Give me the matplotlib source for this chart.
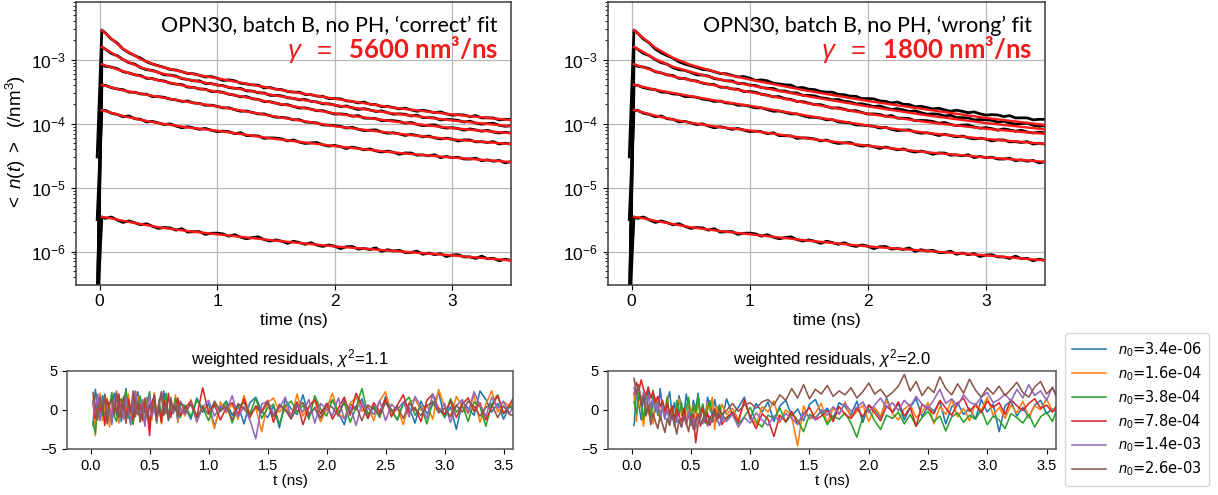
import numpy as np
import matplotlib
matplotlib.use("Agg")
import matplotlib.pyplot as plt

plt.rcParams['font.family'] = ['Liberation Sans', 'DejaVu Sans']
plt.rcParams['mathtext.fontset'] = 'custom'
plt.rcParams['mathtext.rm'] = 'Liberation Sans'
plt.rcParams['mathtext.it'] = 'Liberation Sans:italic'
plt.rcParams['mathtext.bf'] = 'Liberation Sans:bold'
plt.rcParams['mathtext.sf'] = 'Liberation Sans'

# ---------------- data ----------------
labels = ["$n_0$=3.4e-06", "$n_0$=1.6e-04", "$n_0$=3.8e-04",
          "$n_0$=7.8e-04", "$n_0$=1.4e-03", "$n_0$=2.6e-03"]
res_colors = ["C0", "C1", "C2", "C3", "C4", "C5"]

panel_titles = ["OPN30, batch B, no PH, \u2018correct\u2019 fit",
                "OPN30, batch B, no PH, \u2018wrong\u2019 fit"]
gamma_texts = ["$\\gamma$  $=$  5600 nm\u00b3/ns", "$\\gamma$  $=$  1800 nm\u00b3/ns"]
chi2_titles = ["weighted residuals, $\\chi^2$=1.1", "weighted residuals, $\\chi^2$=2.0"]

# measured decays: time (ns) and log10 <n(t)> (/nm^3)
t_data = [-0.02, 0.02] + [round(0.05 * k, 2) for k in range(1, 71)]

log_n1 = [-7.0, -5.46,
          -5.482, -5.460, -5.506, -5.544, -5.521, -5.549, -5.582, -5.565, -5.605, -5.638,
          -5.624, -5.630, -5.666, -5.642, -5.696, -5.690, -5.688, -5.732, -5.714, -5.712,
          -5.724, -5.760, -5.736, -5.776, -5.800, -5.782, -5.770, -5.814, -5.836, -5.818,
          -5.839, -5.872, -5.839, -5.860, -5.887, -5.862, -5.901, -5.920, -5.897, -5.916,
          -5.955, -5.924, -5.921, -5.962, -5.953, -5.968, -5.943, -5.998, -5.971, -5.992,
          -5.981, -6.016, -6.015, -5.994, -6.043, -6.024, -6.049, -6.032, -6.079, -6.054,
          -6.050, -6.084, -6.084, -6.108, -6.072, -6.112, -6.106, -6.144, -6.120, -6.138]
log_n2 = [-5.50, -3.79,
          -3.792, -3.836, -3.855, -3.892, -3.879, -3.923, -3.932, -3.972, -3.964, -3.988,
          -4.014, -4.003, -4.037, -4.064, -4.048, -4.067, -4.089, -4.074, -4.102, -4.124,
          -4.117, -4.126, -4.157, -4.142, -4.187, -4.188, -4.192, -4.230, -4.222, -4.226,
          -4.239, -4.270, -4.255, -4.289, -4.310, -4.300, -4.295, -4.331, -4.351, -4.341,
          -4.360, -4.388, -4.366, -4.385, -4.409, -4.394, -4.426, -4.444, -4.429, -4.447,
          -4.479, -4.458, -4.459, -4.493, -4.488, -4.503, -4.486, -4.531, -4.513, -4.532,
          -4.525, -4.553, -4.554, -4.540, -4.579, -4.566, -4.587, -4.575, -4.613, -4.595]
log_n3 = [-7.0, -3.395,
          -3.400, -3.436, -3.457, -3.468, -3.506, -3.509, -3.535, -3.540, -3.576, -3.577,
          -3.587, -3.616, -3.628, -3.652, -3.646, -3.676, -3.683, -3.712, -3.710, -3.729,
          -3.753, -3.752, -3.781, -3.806, -3.802, -3.824, -3.848, -3.847, -3.875, -3.899,
          -3.901, -3.913, -3.940, -3.937, -3.973, -3.980, -3.989, -4.021, -4.022, -4.031,
          -4.041, -4.069, -4.057, -4.088, -4.108, -4.101, -4.097, -4.131, -4.149, -4.142,
          -4.160, -4.185, -4.167, -4.184, -4.206, -4.193, -4.222, -4.238, -4.227, -4.242,
          -4.271, -4.253, -4.255, -4.284, -4.282, -4.294, -4.281, -4.319, -4.305, -4.321]
log_n4 = [-7.0, -3.07,
          -3.103, -3.115, -3.140, -3.187, -3.206, -3.236, -3.247, -3.291, -3.294, -3.321,
          -3.332, -3.366, -3.382, -3.388, -3.429, -3.432, -3.457, -3.461, -3.497, -3.497,
          -3.509, -3.540, -3.554, -3.580, -3.576, -3.610, -3.621, -3.654, -3.656, -3.679,
          -3.703, -3.702, -3.731, -3.756, -3.752, -3.774, -3.798, -3.797, -3.825, -3.849,
          -3.847, -3.856, -3.884, -3.873, -3.913, -3.915, -3.920, -3.954, -3.949, -3.953,
          -3.966, -3.993, -3.981, -4.011, -4.031, -4.023, -4.019, -4.052, -4.070, -4.062,
          -4.078, -4.102, -4.082, -4.098, -4.118, -4.104, -4.131, -4.146, -4.133, -4.147]
log_n5 = [-7.0, -2.80,
          -2.834, -2.902, -2.936, -2.997, -3.046, -3.069, -3.124, -3.156, -3.166, -3.198,
          -3.236, -3.239, -3.256, -3.295, -3.309, -3.330, -3.331, -3.372, -3.372, -3.396,
          -3.404, -3.434, -3.447, -3.449, -3.487, -3.490, -3.516, -3.520, -3.557, -3.557,
          -3.566, -3.594, -3.605, -3.628, -3.621, -3.652, -3.660, -3.690, -3.689, -3.709,
          -3.732, -3.723, -3.753, -3.778, -3.765, -3.785, -3.809, -3.800, -3.828, -3.852,
          -3.846, -3.853, -3.880, -3.867, -3.905, -3.906, -3.909, -3.942, -3.935, -3.938,
          -3.949, -3.975, -3.961, -3.990, -4.008, -3.999, -3.993, -4.025, -4.041, -4.032]
log_n6 = [-4.52, -2.536,
          -2.582, -2.675, -2.738, -2.833, -2.890, -2.936, -2.975, -3.032, -3.068, -3.094,
          -3.120, -3.152, -3.161, -3.187, -3.216, -3.219, -3.244, -3.269, -3.263, -3.288,
          -3.324, -3.315, -3.330, -3.367, -3.379, -3.393, -3.397, -3.441, -3.434, -3.461,
          -3.467, -3.496, -3.507, -3.508, -3.544, -3.546, -3.570, -3.573, -3.608, -3.607,
          -3.612, -3.643, -3.652, -3.676, -3.662, -3.697, -3.701, -3.735, -3.728, -3.749,
          -3.769, -3.758, -3.784, -3.806, -3.790, -3.807, -3.828, -3.816, -3.846, -3.867,
          -3.859, -3.864, -3.889, -3.874, -3.910, -3.909, -3.910, -3.941, -3.932, -3.933]
log_data = [log_n1, log_n2, log_n3, log_n4, log_n5, log_n6]

# fitted model curves (log10), sampled at t_fit
t_fit = [0.02, 0.1, 0.2, 0.35, 0.5, 0.75, 1.0, 1.5, 2.0, 2.5, 3.0, 3.5]
fit_correct = [
    [-5.46, -5.48, -5.52, -5.57, -5.62, -5.68, -5.73, -5.83, -5.92, -5.99, -6.06, -6.14],
    [-3.79, -3.83, -3.88, -3.94, -3.99, -4.06, -4.11, -4.24, -4.35, -4.45, -4.53, -4.60],
    [-3.395, -3.43, -3.48, -3.53, -3.58, -3.66, -3.73, -3.89, -4.04, -4.15, -4.245, -4.32],
    [-3.07, -3.12, -3.18, -3.26, -3.32, -3.42, -3.50, -3.68, -3.84, -3.965, -4.07, -4.15],
    [-2.80, -2.89, -3.00, -3.12, -3.20, -3.31, -3.395, -3.56, -3.71, -3.84, -3.95, -4.04],
    [-2.54, -2.67, -2.83, -2.99, -3.10, -3.21, -3.29, -3.46, -3.61, -3.75, -3.855, -3.945],
]
fit_wrong = [
    [-5.46, -5.48, -5.52, -5.57, -5.62, -5.68, -5.73, -5.83, -5.92, -5.99, -6.06, -6.14],
    [-3.785, -3.825, -3.875, -3.935, -3.985, -4.055, -4.105, -4.235, -4.345, -4.447, -4.527, -4.597],
    [-3.39, -3.425, -3.47, -3.52, -3.57, -3.65, -3.72, -3.88, -4.03, -4.145, -4.24, -4.315],
    [-3.07, -3.12, -3.18, -3.26, -3.32, -3.42, -3.505, -3.685, -3.845, -3.975, -4.08, -4.16],
    [-2.80, -2.88, -2.99, -3.11, -3.19, -3.31, -3.40, -3.575, -3.73, -3.87, -3.99, -4.09],
    [-2.54, -2.66, -2.81, -2.97, -3.08, -3.21, -3.31, -3.49, -3.645, -3.78, -3.91, -4.02],
]
fits = [fit_correct, fit_wrong]

# weighted residuals: time grid (dense early, coarser later)
t_res = list(np.round(np.arange(0.02, 0.761, 0.02), 2)) + list(np.round(np.arange(0.80, 3.601, 0.05), 2))

res_correct = [
    [-2.0, 2.6, 0.4, -1.2, 1.8, -0.6, 0.9, -1.7, 0.2, 2.1, -0.8, 1.3, -1.5, 0.6, 2.7, -0.3, -1.9, 1.1, 0.0, 2.3,
     -1.1, 0.7, -0.4, 1.6, -2.1, 0.8, 1.9, -0.9, 0.3, -1.4, 2.4, 0.1, -1.0, 1.2, -0.5, 0.6, -1.6, 0.9,
     0.4, -1.2, 1.5, -0.3, 0.8, -2.1, 0.2, 1.1, -0.7, 0.6, -1.8, 0.9, 1.6, -0.2, -1.0, 0.5, -2.3, 1.3, 0.1, -0.6,
     1.9, -0.9, 0.3, -1.5, 0.7, 1.2, -0.4, -1.9, 0.8, 0.0, 1.4, -1.1, 0.5, -0.8, 1.7, -0.1, -1.3, 0.9, 0.3, -1.7,
     1.1, -0.5, 0.6, 2.2, -1.0, 0.4, -2.5, 1.0, 0.2, -0.7, 2.4, 1.3, -0.3, 0.8, -1.2, 0.5, -0.4],
    [1.8, -3.3, 0.6, 2.1, -1.4, 0.3, 1.5, -2.2, 0.9, -0.5, 2.4, -1.7, 0.2, 1.2, -1.0, 2.0, -0.4, -1.9, 0.8, 1.7,
     -0.9, 0.1, -2.0, 1.4, 0.5, -1.3, 2.2, -0.6, 1.0, -1.8, 0.4, 1.6, -1.1, 0.7, -0.2, 1.9, -1.5, 0.3,
     -0.8, 1.3, -1.6, 0.5, 0.2, -2.4, 1.0, -0.4, 0.7, -1.2, 1.8, -0.6, 0.3, -2.8, 0.9, 1.5, -0.3, 0.6, -1.0, 2.0,
     -0.8, 0.4, 1.2, -1.5, 0.1, 2.1, -0.5, -1.1, 0.8, 1.6, -0.2, 0.5, -1.4, 1.1, 2.3, -0.7, 0.2, -1.9, 0.9, 1.4,
     -0.1, 0.6, -1.2, 2.6, 0.3, -0.9, 1.7, 0.4, -0.5, 1.9, -1.6, 0.7, 2.4, -0.3, 1.0, 0.5, 1.3],
    [-1.6, -3.0, 1.2, 0.3, -0.7, 1.9, -1.2, 0.5, 2.2, -0.8, -1.5, 0.7, 1.4, -0.2, 2.5, -1.1, 0.4, -1.8, 1.0, 0.1,
     1.8, -0.6, -1.3, 0.9, 2.3, -0.4, 0.6, -1.7, 1.3, -0.9, 0.2, 2.1, -1.4, 0.8, -0.3, 1.5, 0.0, -1.0,
     0.6, -0.9, 1.2, 0.3, -1.4, 0.8, -0.2, 1.0, -1.7, 0.4, 0.9, -0.5, 1.5, -1.1, 0.2, 0.7, -1.9, 0.5, 1.1, -0.3,
     0.6, -1.2, 1.8, 0.1, -0.8, 1.3, -0.4, 0.9, -1.6, 0.3, 2.7, -0.6, 0.4, -1.0, 1.2, 0.0, -1.3, 0.8, 1.6, -0.7,
     0.5, -1.8, 1.1, 0.2, -0.9, 1.4, -0.3, 0.6, -1.5, 1.0, 0.4, -2.1, 0.7, 1.9, -0.5, 0.3, 0.8],
    [0.8, -1.1, 1.6, -0.4, 0.9, -2.0, 1.3, 0.2, -1.5, 1.0, -0.3, 2.0, -0.9, 0.5, -1.7, 1.4, 0.0, -1.2, 2.3, -0.6,
     0.7, -1.4, 1.1, -0.2, -3.3, 0.9, 1.7, -0.8, 0.4, -1.6, 1.2, -0.5, 2.1, -1.0, 0.6, -0.1, 1.5, -0.7,
     0.2, 1.1, -0.9, 2.8, -0.4, 0.6, -1.3, 0.3, 0.9, -0.6, 1.4, -1.0, 0.5, -0.2, 1.2, -1.6, 0.7, 0.0, -0.8, 1.0,
     -1.9, 0.4, 1.3, -0.5, 0.8, -1.2, 0.2, 1.6, -0.7, 2.1, 0.5, -1.1, 0.9, -0.3, 1.4, -0.9, 0.6, 1.9, -0.4, 0.3,
     -1.5, 1.2, 2.0, 0.1, -0.6, 1.1, -1.0, 0.7, 1.5, -0.2, 0.9, -1.3, 0.4, 1.8, -0.5, 0.6, 2.0],
    [1.2, -0.5, 2.0, -1.4, 0.6, 1.7, -0.9, 0.3, -1.9, 1.1, 2.3, -0.7, 0.4, -1.2, 1.5, 0.0, -1.6, 0.9, 2.4, -0.3,
     -1.0, 1.3, -2.1, 0.5, 1.8, -0.8, 0.2, -1.5, 1.0, 2.2, -0.6, 0.7, -1.3, 1.6, -0.4, 0.8, -1.1, 0.3,
     -0.6, 0.9, -1.5, 0.3, 1.2, -0.8, 0.5, -0.2, 1.8, -0.9, 0.4, -1.3, -3.7, 0.7, 1.1, -0.5, 0.2, 1.6, -1.0, 0.6,
     -0.3, 1.3, -1.7, 0.8, 0.1, -0.7, 1.5, -1.2, 0.4, -2.0, 0.9, 0.3, -0.6, 1.2, -1.4, 0.7, 0.0, 1.0, -0.9, 1.7,
     0.4, -1.1, 2.0, -0.3, 0.8, -1.6, 0.5, 1.3, -0.4, 2.3, 0.6, -0.8, 1.6, 0.2, 1.1, -0.5, 0.9],
    [2.2, 0.5, -1.3, 1.6, -0.2, 2.0, -1.8, 0.8, 1.3, -0.6, 2.1, -1.0, 0.3, 1.7, -1.5, 0.6, -0.4, 2.4, -0.9, 1.0,
     -1.6, 0.2, 1.5, -1.1, 0.7, -0.3, 1.9, -1.4, 0.4, 2.3, -0.7, 0.9, -1.2, 1.4, -0.1, 0.5, -0.8, 1.1,
     -0.3, 0.7, -1.0, 0.4, -0.6, 1.1, -0.2, 0.5, -1.3, 0.8, 0.1, -0.7, 0.3, -0.4, 1.0, -0.9, 0.6, 0.0, -1.2, 0.4,
     0.9, -0.5, 0.2, -1.0, 0.7, 0.3, -0.8, 1.2, -0.3, 0.5, -1.4, 0.6, 0.1, -0.6, 0.9, -0.2, 0.4, -1.1, 0.8, 0.0,
     -0.7, 0.5, 1.0, -0.4, 0.2, -0.9, 0.6, -0.3, 1.1, 0.4, -0.8, 0.3, 0.7, -1.0, 0.5, -0.6, -0.8],
]
res_wrong = [
    [-2.0, 2.4, 0.6, -1.3, 1.9, -0.4, 2.6, -1.0, 0.8, 1.5, -0.7, 2.7, 0.2, -1.2, 1.1, 2.3, -0.5, 0.9, -1.6, 1.8,
     0.3, -0.9, 2.0, 0.5, -1.4, 1.2, 0.0, 2.1, -0.6, 0.7, -1.1, 1.6, 0.4, -0.8, 1.3, -0.2, 0.6, -1.5,
     1.4, -0.6, 0.3, 1.6, -1.2, 0.8, -0.3, 1.0, -1.5, 0.5, 1.2, -0.8, 0.1, -1.4, 0.7, 1.3, -0.5, 0.2, -1.1, 0.9,
     0.4, -0.7, 1.1, -1.6, 0.6, 0.0, -1.0, 1.5, -0.4, 0.8, -1.3, 0.3, 1.4, -0.9, 0.5, -0.2, 1.0, -1.8, 0.4, 0.9,
     -0.6, 0.2, -1.2, 1.3, -0.3, 0.7, -2.8, 0.5, 1.1, -0.8, 0.3, -1.0, 0.6, 1.2, -0.5, 0.1, -0.5],
    [1.8, -1.5, 2.0, 0.4, -2.1, 1.2, -0.6, 0.9, -1.8, 1.5, 0.2, -1.2, 1.0, -0.4, 1.7, -1.0, 0.3, -2.2, 0.8, 1.4,
     -0.7, 0.1, -1.6, 1.1, -0.3, 0.6, -1.9, 1.3, -0.8, 0.5, -1.4, 0.9, -0.2, 1.6, -2.5, 0.4, -1.0, 0.7,
     -0.6, 0.2, -1.3, 0.9, -0.8, -1.9, 0.4, -0.3, 1.1, -1.6, 0.0, -0.9, -4.6, 0.5, -1.2, -0.4, 0.8, -1.7, 0.2, -0.6,
     1.0, -1.1, -0.2, 0.6, -1.5, 0.3, -0.8, 1.2, -0.5, -1.3, 0.1, 0.7, -1.0, -0.3, 0.9, -1.8, 0.4, -0.6, 1.3, -0.9,
     0.2, -1.4, 0.8, -0.1, 1.6, -0.7, 0.3, -1.1, 0.6, -0.4, 1.1, -0.9, 0.5, 0.0, 1.4, -0.2, 0.6],
    [1.0, -0.5, 2.2, 0.6, -1.2, 1.7, 0.3, -0.8, 2.5, -0.3, 1.1, -1.4, 0.8, 0.0, 1.5, -1.0, 0.4, -1.8, 1.2, -0.6,
     0.9, -1.3, 0.2, 1.6, -2.0, 0.5, -0.4, 1.8, -1.1, 0.7, -1.7, 0.3, 1.2, -0.9, 0.1, -1.5, 0.6, -0.7,
     -1.2, -0.4, -1.8, -0.9, 0.3, -1.5, -2.2, -0.7, -1.1, 0.2, -1.6, -0.5, -1.3, -2.8, -0.6, -1.0, -0.2, -1.9, -0.8, -1.2,
     -0.4, -1.7, -3.5, -0.9, 0.1, -1.4, -2.5, -0.7, -1.1, -0.3, -1.8, -0.6, -2.1, -1.0, -0.2, -1.5, -0.8, -2.7, -0.9, -0.4,
     -1.6, -0.7, -1.2, 0.0, -1.9, -0.8, -1.3, -2.4, -0.5, -1.0, -1.7, -0.6, -2.2, -0.9, -0.3, -1.5, 0.6],
    [2.0, 3.5, 2.4, 3.8, 2.6, 1.8, 2.9, 1.5, 2.3, 0.9, 1.7, 0.4, 1.2, -0.3, 0.8, -0.6, 0.5, -1.2, 0.1, -0.8,
     -1.5, 0.2, -1.9, -0.7, -1.2, -0.6, -4.2, -1.8, -0.9, 0.3, -1.6, -0.4, -2.0, -1.0, 0.1, -1.4, -0.6, -1.9,
     -1.0, -0.3, -1.6, 1.3, -0.9, -2.4, -0.5, -1.2, -3.4, -0.7, -1.5, -0.2, -1.8, -0.6, 0.3, -1.3, -0.8, -0.1, -1.5, 0.4,
     -0.6, -1.1, 0.2, -0.9, 0.6, -0.4, -1.4, 0.5, -0.3, 1.0, -0.8, 0.3, -2.1, 0.7, 0.1, -0.5, 1.2, 0.2, -0.7, 0.8,
     1.5, -0.2, 0.6, -0.4, 1.1, 0.3, 0.9, -0.6, 1.3, 0.5, -0.1, 0.8, 1.4, 0.2, 0.6, -0.3, 0.9],
    [2.8, 1.5, 3.0, 1.2, 2.2, 0.6, 1.9, 0.3, 1.4, -0.2, 0.9, -0.7, 0.5, -1.0, -0.1, -1.5, -0.6, -2.0, -0.9, -1.4,
     -2.2, -0.8, -1.6, -0.3, -1.9, -1.1, -2.4, -0.6, -1.3, -1.8, -0.5, -2.1, -1.0, -1.6, -0.4, -1.2, -2.0, -0.9,
     -1.5, -0.6, -2.2, -1.0, -1.7, -0.4, -1.3, -2.0, -0.8, -1.4, -0.5, -1.1, -1.9, -0.3, -0.9, -1.2, 0.0, -0.7, 0.4, -0.5,
     0.8, -0.2, 0.3, 1.0, -0.4, 0.6, 1.5, 0.2, 0.9, -0.1, 1.2, 0.4, 1.7, 0.7, 0.2, 1.3, 2.6, 0.8, 1.4, 0.5,
     1.9, 1.0, 0.6, 1.6, 2.2, 0.9, 1.3, 2.0, 1.1, 2.6, 1.5, 3.2, 1.8, 2.4, 1.2, 2.9, 1.0],
    [4.0, 2.1, 3.2, 0.5, 1.8, -0.8, 0.6, -1.9, -0.4, -1.5, -2.4, -0.7, -1.8, -2.9, -1.1, -2.0, -0.6, -1.7, -3.1, -1.3,
     -2.2, -0.9, -1.6, -2.8, -1.0, -2.5, -1.4, -0.5, -2.1, -1.2, -0.3, -1.9, -0.8, -1.5, -0.2, -1.1, 0.1, -0.6,
     -0.1, 0.8, -0.2, 0.6, 0.9, 0.2, 1.0, 1.3, 0.6, 1.9, 1.2, 2.7, 1.5, 3.2, 1.4, 2.6, 2.0, 3.1, 1.7, 2.4,
     1.9, 2.8, 1.5, 2.3, 3.4, 2.0, 2.6, 1.6, 2.2, 3.0, 4.5, 2.4, 3.6, 1.8, 2.9, 2.2, 4.2, 2.7, 1.9, 3.3,
     2.1, 3.9, 2.5, 1.6, 2.8, 2.0, 3.0, 1.8, 2.6, 3.5, 2.2, 1.6, 2.9, 3.6, 2.0, 2.8, 1.3],
]
residuals = [res_correct, res_wrong]

# ---------------- figure ----------------
W, H = 1218, 495
fig = plt.figure(figsize=(W / 100, H / 100), dpi=100)


def add_ax(l, t, r, b):
    return fig.add_axes([l / W, 1 - b / H, (r - l) / W, (b - t) / H])


top_boxes = [(76, 2, 511, 284.5), (608, 2, 1045, 284.5)]
bot_boxes = [(67, 370.5, 513, 449), (608, 370.5, 1056, 449)]
spine_col = '#3a3a3a'

for p in range(2):
    ax = add_ax(*top_boxes[p])
    for k in range(6):
        ax.plot(t_data, 10.0 ** np.array(log_data[k]), color='black', lw=2.0, zorder=2)
    for k in range(6):
        ax.plot(t_fit, 10.0 ** np.array(fits[p][k]), color='#ff1a1a', lw=1.7, zorder=3)
    ax.set_yscale('log')
    ax.set_xlim(-0.2, 3.5)
    ax.set_ylim(3.05e-7, 8e-3)
    ax.set_xticks([0, 1, 2, 3])
    ax.grid(True, which='major', color='#b8b8b8', lw=0.9)
    ax.tick_params(labelsize=12.5)
    ax.set_xlabel('time (ns)', fontsize=12.5, labelpad=3)
    for s in ax.spines.values():
        s.set_color(spine_col)
        s.set_linewidth(1.1)
    if p == 0:
        ax.set_ylabel('$<$ $n(t)$ $>$  (/nm$^3$)', fontsize=13.5, labelpad=2)
    ax.text(0.97, 0.894, panel_titles[p], transform=ax.transAxes, ha='right', va='baseline',
            fontsize=15.5, family=['Lato', 'DejaVu Sans'], color='black', zorder=5)
    ax.text(0.97, 0.802, gamma_texts[p], transform=ax.transAxes, ha='right', va='baseline',
            fontsize=18.5, fontweight='bold', family=['Lato', 'DejaVu Sans'], color='#ee1c1c', zorder=5)

    bx = add_ax(*bot_boxes[p])
    lines = []
    for k in range(6):
        r = residuals[p][k]
        n = min(len(r), len(t_res))
        ln, = bx.plot(t_res[:n], r[:n], color=res_colors[k], lw=1.15, label=labels[k])
        lines.append(ln)
    bx.set_xlim(-0.2, 3.58)
    bx.set_ylim(-5, 5)
    bx.set_yticks([-5, 0, 5])
    bx.set_xticks([0.0, 0.5, 1.0, 1.5, 2.0, 2.5, 3.0, 3.5])
    bx.set_xticklabels(['0.0', '0.5', '1.0', '1.5', '2.0', '2.5', '3.0', '3.5'])
    bx.tick_params(labelsize=10.5)
    bx.set_title(chi2_titles[p], fontsize=12, pad=4)
    bx.set_xlabel('t (ns)', fontsize=11, labelpad=1)
    for s in bx.spines.values():
        s.set_color('#555555')
        s.set_linewidth(1.1)

fig.legend(lines, labels, loc='upper left', bbox_to_anchor=(1065 / W, 1 - 333 / H),
           prop={'family': 'DejaVu Sans', 'size': 10.5}, labelspacing=0.38,
           handlelength=2.3, handletextpad=0.8, borderpad=0.5, borderaxespad=0.0,
           frameon=True)

fig.savefig('out.png', dpi=100)
